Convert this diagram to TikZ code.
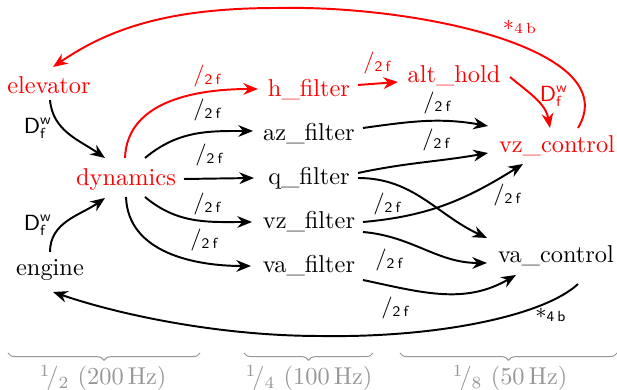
\documentclass[tikz,border=0pt]{standalone}
\usetikzlibrary{arrows.meta,calc,decorations.pathreplacing}
\definecolor{myred}{RGB}{255,0,0}
\definecolor{mygray}{RGB}{150,150,150}
\newcommand{\lblslash}{$/_{\mathsf{2\,f}}$}
\newcommand{\lblD}{$\mathsf{D}^{\mathsf{w}}_{\mathsf{f}}$}
\begin{document}
\begin{tikzpicture}[x=0.41pt,y=-0.41pt,
  blk/.style={inner sep=0pt,text height=7pt,text depth=2pt,font=\normalsize},
  redblk/.style={blk,text=myred},
  lbl/.style={inner sep=0pt,font=\small},
  conn/.style={line width=0.8pt,-{Stealth[length=6pt,width=4.8pt]}},
  rconn/.style={conn,draw=myred},
  brc/.style={decorate,decoration={brace,mirror,amplitude=3pt},draw=mygray,line width=0.4pt},
  brlbl/.style={inner sep=0pt,text=mygray}]
\useasboundingbox (0,0) rectangle (617,390);

% nodes
\node[redblk] (elev) at (49,87) {elevator};
\node[redblk] (dyn) at (126,179) {dynamics};
\node[blk] (eng) at (50,269) {engine};
\node[redblk] (hf) at (309,90) {h\_filter};
\node[blk] (azf) at (309,134) {az\_filter};
\node[blk] (qf) at (309,178) {q\_filter};
\node[blk] (vzf) at (309,222) {vz\_filter};
\node[blk] (vaf) at (309,266) {va\_filter};
\node[redblk] (alt) at (454,76) {alt\_hold};
\node[redblk] (vzc) at (557,146) {vz\_control};
\node[blk] (vac) at (556,256) {va\_control};

\coordinate (toparc) at (277,8);
\coordinate (botarc) at (320,336);

% red feedback arc
\draw[rconn] ($(vzc)+(21,-18)$) .. controls (625,50) and (420,5) .. (toparc)
  .. controls (170,8) and (110,28) .. ($(elev)+(4,-20)$);
\node[lbl,text=myred] (l1) at (520,27) {$*_{4\,\mathrm{b}}$};

% elevator / engine -> dynamics
\draw[conn] ($(elev)+(1,13)$) to[out=-85,in=145] ($(dyn)+(-21,-21)$);
\node[lbl] (l2) at (38,128) {\lblD};
\draw[conn] ($(eng)+(0,-17)$) to[out=90,in=215] ($(dyn)+(-21,19)$);
\node[lbl] (l3) at (38,225) {\lblD};

% dynamics -> filters
\draw[rconn] ($(dyn)+(-1,-21)$) to[out=88,in=180] ($(hf)+(-51,-1)$);
\node[lbl,text=myred] (l4) at (208,76) {\lblslash};
\draw[conn] ($(dyn)+(19,-21)$) to[out=40,in=180] ($(azf)+(-56,-3)$);
\node[lbl] (l5) at (208,110) {\lblslash};
\draw[conn] ($(dyn)+(58,0)$) -- ($(qf)+(-55,0)$);
\node[lbl] (l6) at (210,155) {\lblslash};
\draw[conn] ($(dyn)+(19,18)$) to[out=-40,in=180] ($(vzf)+(-57,0)$);
\node[lbl] (l7) at (208,204) {\lblslash};
\draw[conn] ($(dyn)+(0,18)$) to[out=-88,in=180] ($(vaf)+(-58,0)$);
\node[lbl] (l8) at (205,240) {\lblslash};

% red chain
\draw[rconn] ($(hf)+(49,-5)$) -- ($(alt)+(-56,6)$);
\node[lbl,text=myred] (l9) at (378,63) {\lblslash};
\draw[rconn] ($(alt)+(56,1)$) to[out=-40,in=100] ($(vzc)+(-7,-18)$);
\node[lbl,text=myred] (l10) at (554,96) {\lblD};

% filters -> controllers
\draw[conn] ($(azf)+(54,-6)$) to[out=8,in=170] ($(vzc)+(-69,-20)$);
\node[lbl] (l11) at (438,103) {\lblslash};
\draw[conn] ($(qf)+(49,-5)$) to[out=12,in=190] ($(vzc)+(-69,7)$);
\node[lbl] (l12) at (437,140) {\lblslash};
\draw[conn] ($(qf)+(49,0)$) to[out=0,in=155] ($(vac)+(-69,-18)$);
\node[lbl] (l13) at (508,195) {\lblslash};
\draw[conn] ($(vzf)+(54,0)$) to[out=5,in=212] ($(vzc)+(-34,18)$);
\node[lbl] (l14) at (388,204) {\lblslash};
\draw[conn] ($(vzf)+(54,10)$) to[out=-5,in=180] ($(vac)+(-69,7)$);
\node[lbl] (l15) at (390,260) {\lblslash};
\draw[conn] ($(vaf)+(54,14)$) to[out=-12,in=210] ($(vac)+(-40,19)$);
\node[lbl] (l16) at (396,308) {\lblslash};

% va_control -> engine
\draw[conn] ($(vac)+(22,28)$) .. controls (545,315) and (440,338) .. (botarc)
  .. controls (220,336) and (120,315) .. ($(eng)+(3,23)$);
\node[lbl] (l17) at (551,315) {$*_{\mathsf{4\,b}}$};

% braces
\draw[brc] (8,353) -- (200,353);
\draw[brc] (244,353) -- (373,353);
\draw[brc] (400,353) -- (617,353);
\node[brlbl] (b1) at (103,378) {${}^1\!/_2$ (200\,Hz)};
\node[brlbl] (b2) at (309,378) {${}^1\!/_4$ (100\,Hz)};
\node[brlbl] (b3) at (510,378) {${}^1\!/_8$ (50\,Hz)};
\end{tikzpicture}
\end{document}
